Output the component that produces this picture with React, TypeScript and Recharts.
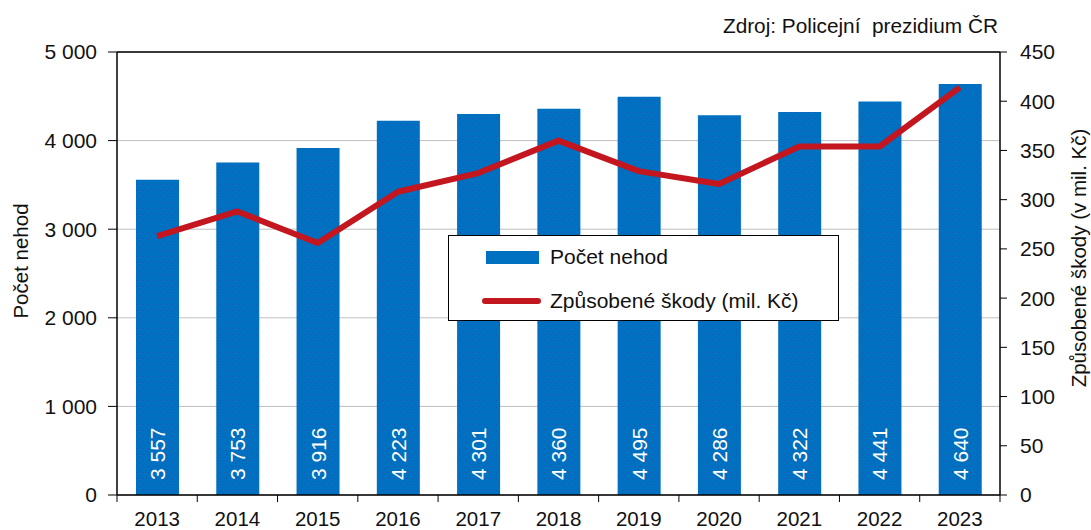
import React from 'react';
import {
  ComposedChart,
  Bar,
  Line,
  XAxis,
  YAxis,
  CartesianGrid,
  ReferenceLine,
  Legend,
  LabelList,
} from 'recharts';

const years = ['2013', '2014', '2015', '2016', '2017', '2018', '2019', '2020', '2021', '2022', '2023'];
const accidents = [3557, 3753, 3916, 4223, 4301, 4360, 4495, 4286, 4322, 4441, 4640];
const damages = [263, 288, 256, 308, 327, 360, 329, 316, 354, 354, 414];
const leftTicks = [0, 1000, 2000, 3000, 4000, 5000];
const rightTicks = [0, 50, 100, 150, 200, 250, 300, 350, 400, 450];

const FONT = '"Liberation Sans", Arial, sans-serif';
const TEXT = '#111';
const BLUE = '#0070C0';
const RED = '#C3161E';

const W = 1091;
const H = 530;
const LEFT_W = 117;
const RIGHT_W = 91;
const BAND = (W - LEFT_W - RIGHT_W) / years.length;

// thousands with a space, Czech style
const fmt = (n: number) => String(n).replace(/\B(?=(\d{3})+(?!\d))/g, ' ');

const data = years.map((year, i) => ({
  year,
  count: accidents[i],
  damage: damages[i],
}));

// year label at band centre, tick marks on band edges
const YearTick = (props: any) => {
  const { x, y, payload, index } = props;
  const left = x - BAND / 2;
  const right = x + BAND / 2;
  return (
    <g>
      <line x1={left} x2={left} y1={y} y2={y + 7} stroke="#000" />
      {index === years.length - 1 && <line x1={right} x2={right} y1={y} y2={y + 7} stroke="#000" />}
      <text x={x} y={y + 26} textAnchor="middle" dominantBaseline="middle" fontSize={20.5} fill={TEXT} fontFamily={FONT}>
        {payload.value}
      </text>
    </g>
  );
};

const BarValue = (props: any) => {
  const { x, y, width, height, value } = props;
  const cx = x + width / 2;
  const by = y + height - 15;
  return (
    <text
      x={cx}
      y={by}
      transform={`rotate(-90 ${cx} ${by})`}
      textAnchor="start"
      dominantBaseline="central"
      fontSize={21}
      fill="#fff"
      fontFamily={FONT}
    >
      {fmt(value)}
    </text>
  );
};

// plain text for the rotated axis titles
const AxisTitle = ({ cx, cy, text }: { cx: number; cy: number; text: string }) => (
  <text
    x={cx}
    y={cy}
    transform={`rotate(-90 ${cx} ${cy})`}
    textAnchor="middle"
    dominantBaseline="central"
    fontSize={20.5}
    fill={TEXT}
    fontFamily={FONT}
  >
    {text}
  </text>
);

const LegendBox = () => (
  <div
    style={{
      position: 'relative',
      width: 391,
      height: 86,
      boxSizing: 'border-box',
      border: '1.5px solid #000',
      background: '#fff',
      fontFamily: FONT,
      fontSize: 21,
      color: TEXT,
    }}
  >
    <div style={{ position: 'absolute', left: 37, top: 15, width: 53, height: 13, background: BLUE }} />
    <div style={{ position: 'absolute', left: 101, top: 8, lineHeight: '26px' }}>Počet nehod</div>
    <div style={{ position: 'absolute', left: 33, top: 62, width: 59, height: 6, borderRadius: 3, background: RED }} />
    <div style={{ position: 'absolute', left: 101, top: 52, lineHeight: '26px' }}>Způsobené škody (mil. Kč)</div>
  </div>
);

export default function App() {
  return (
    <div style={{ position: 'absolute', left: 0, top: 0, width: W, height: H, background: '#fff' }}>
      <div
        style={{
          position: 'absolute',
          right: 93,
          top: 14,
          fontFamily: FONT,
          fontSize: 20.8,
          color: TEXT,
          whiteSpace: 'pre',
          zIndex: 2,
        }}
      >
        {'Zdroj: Policejní  prezidium ČR'}
      </div>
      <ComposedChart width={W} height={H} data={data} margin={{ top: 52, right: 0, bottom: 0, left: 0 }}>
        <defs>
          <pattern id="dots" width="6" height="6" patternUnits="userSpaceOnUse">
            <rect width="6" height="6" fill={BLUE} />
            <rect x="1" y="1" width="1" height="1" fill="#1F55B8" />
            <rect x="4" y="4" width="1" height="1" fill="#1F55B8" />
          </pattern>
        </defs>
        <CartesianGrid vertical={false} stroke="#BFBFBF" yAxisId="left" />
        <XAxis
          dataKey="year"
          height={35}
          tickLine={false}
          tickSize={0}
          tickMargin={0}
          axisLine={{ stroke: '#000', strokeWidth: 1.5 }}
          tick={<YearTick />}
          interval={0}
        />
        <YAxis
          yAxisId="left"
          width={LEFT_W}
          domain={[0, 5000]}
          ticks={leftTicks}
          tickFormatter={fmt}
          tickSize={9}
          tickMargin={11}
          axisLine={{ stroke: '#000', strokeWidth: 1.5 }}
          tickLine={{ stroke: '#000' }}
          tick={{ fill: TEXT, fontSize: 21, fontFamily: FONT }}
          label={{ content: () => <AxisTitle cx={20} cy={261} text="Počet nehod" /> }}
        />
        <YAxis
          yAxisId="right"
          orientation="right"
          width={RIGHT_W}
          domain={[0, 450]}
          ticks={rightTicks}
          tickSize={7}
          tickMargin={13}
          axisLine={{ stroke: '#000', strokeWidth: 1.5 }}
          tickLine={{ stroke: '#000' }}
          tick={{ fill: TEXT, fontSize: 21, fontFamily: FONT }}
          label={{ content: () => <AxisTitle cx={1078} cy={258} text="Způsobené škody (v mil. Kč)" /> }}
        />
        <ReferenceLine yAxisId="left" y={5000} stroke="#000" strokeWidth={1.5} />
        <Bar yAxisId="left" dataKey="count" name="Počet nehod" fill="url(#dots)" barSize={43} isAnimationActive={false}>
          <LabelList dataKey="count" content={<BarValue />} />
        </Bar>
        <Line
          yAxisId="right"
          dataKey="damage"
          name="Způsobené škody (mil. Kč)"
          stroke={RED}
          strokeWidth={6}
          strokeLinejoin="round"
          dot={false}
          activeDot={false}
          isAnimationActive={false}
        />
        <Legend
          layout="horizontal"
          verticalAlign="middle"
          align="center"
          content={<LegendBox />}
          wrapperStyle={{ left: 448, top: 235, width: 391, height: 86 }}
        />
      </ComposedChart>
    </div>
  );
}
